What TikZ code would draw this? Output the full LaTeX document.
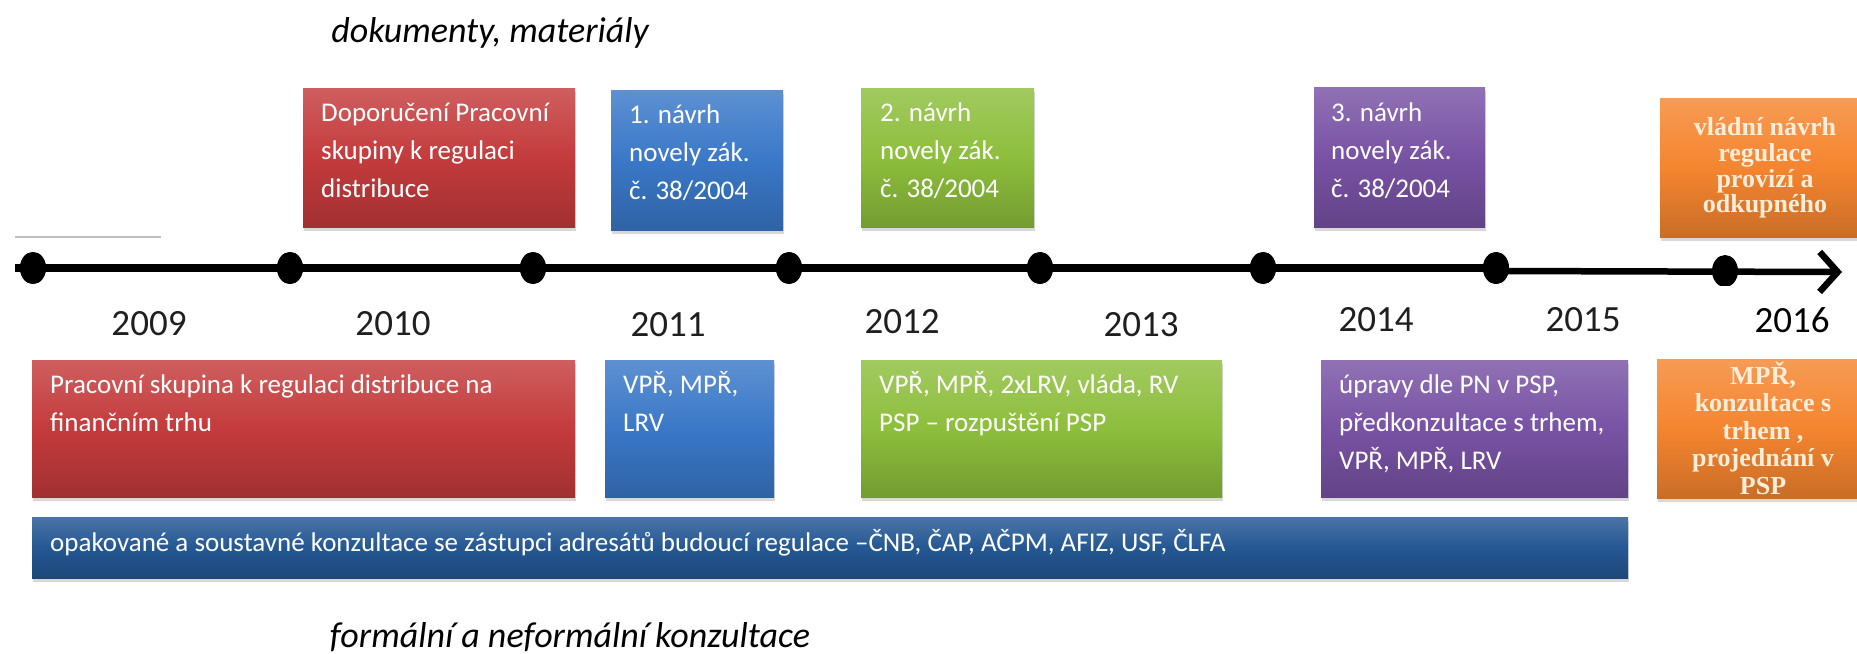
\documentclass[tikz,border=0pt]{standalone}
\usepackage{fontspec}
\setmainfont{Carlito}
\newfontfamily\orfont{Liberation Serif}
\usetikzlibrary{shadows,arrows.meta,shapes.geometric}
\definecolor{cred}{HTML}{C43B3C}
\definecolor{cblue}{HTML}{3A78C8}
\definecolor{cgreen}{HTML}{8DBE3C}
\definecolor{cpurple}{HTML}{7852A4}
\definecolor{corange}{HTML}{F5852F}
\definecolor{cbar}{HTML}{245793}
\definecolor{otext}{HTML}{FDEEDB}
\tikzset{
  colbox/.style={draw=none, inner sep=0pt, anchor=north west,
    top color=#1!82!white, bottom color=#1!82!black, middle color=#1,
    drop shadow={shadow xshift=1pt, shadow yshift=-4pt, opacity=0.3}},
  boxtext/.style={anchor=north west, inner sep=0pt, align=left, text=white,
    font=\fontsize{27}{38}\selectfont},
  otxt/.style={inner sep=0pt, align=center, text=otext,
    font=\orfont\bfseries\fontsize{26}{25.7}\selectfont},
  year/.style={anchor=base, inner sep=0pt, text=black!88,
    font=\fontsize{37}{40}\selectfont},
  caption/.style={anchor=base, inner sep=0pt, text=black,
    font=\itshape\fontsize{36}{40}\selectfont},
  dot/.style={ellipse, fill=black, inner sep=0pt, minimum width=26pt, minimum height=32pt},
  tline/.style={line width=8pt, black},
}
\begin{document}
\begin{tikzpicture}[x=1pt,y=-1pt]
\useasboundingbox (0,0) rectangle (1857,653);
\fill[white] (0,0) rectangle (1857,653);

% captions
\node[caption] (cap1) at (490,42) {dokumenty, materiály};
\node[caption] (cap2) at (570,647) {formální a neformální konzultace};

% top row boxes
\node[colbox=cred, minimum width=272pt, minimum height=139pt] (r1) at (303,88) {};
\node[colbox=cblue, minimum width=172pt, minimum height=140pt] (b1) at (611,90) {};
\node[colbox=cgreen, minimum width=173pt, minimum height=139pt] (g1) at (861,88) {};
\node[colbox=cpurple, minimum width=171pt, minimum height=140pt] (p1) at (1314,87) {};
\node[colbox=corange, minimum width=220pt, minimum height=139pt] (o1) at (1660,98) {};

\node[boxtext] (r1t) at (321,94.4) {\strut Doporučení Pracovní\\skupiny k regulaci\\distribuce};
\node[boxtext] (b1t) at (629,96.4) {\strut 1. návrh\\novely zák.\\č. 38/2004};
\node[boxtext] (g1t) at (880,94.4) {\strut 2. návrh\\novely zák.\\č. 38/2004};
\node[boxtext] (p1t) at (1331,94.4) {\strut 3. návrh\\novely zák.\\č. 38/2004};
\node[otxt] (o1t) at (1765,168) {vládní návrh\\regulace\\provizí a\\odkupného};

% bottom row boxes
\node[colbox=cred, minimum width=543pt, minimum height=137pt] (r2) at (32,360) {};
\node[colbox=cblue, minimum width=169pt, minimum height=137pt] (b2) at (605,360) {};
\node[colbox=cgreen, minimum width=361pt, minimum height=137pt] (g2) at (861,360) {};
\node[colbox=cpurple, minimum width=307pt, minimum height=137pt] (p2) at (1321,360) {};
\node[colbox=corange, minimum width=220pt, minimum height=139pt] (o2) at (1657,359) {};
\node[colbox=cbar, minimum width=1596pt, minimum height=61pt] (bar) at (32,517) {};

\node[boxtext] (r2t) at (50,366.4) {\strut Pracovní skupina k regulaci distribuce na\\finančním trhu};
\node[boxtext] (b2t) at (623,366.4) {\strut VPŘ, MPŘ,\\LRV};
\node[boxtext] (g2t) at (879,366.4) {\strut VPŘ, MPŘ, 2xLRV, vláda, RV\\PSP – rozpuštění PSP};
\node[boxtext] (p2t) at (1339,366.4) {\strut úpravy dle PN v PSP,\\předkonzultace s trhem,\\VPŘ, MPŘ, LRV};
\node[otxt, font=\orfont\bfseries\fontsize{26}{27.5}\selectfont] (o2t) at (1763,428) {MPŘ,\\konzultace s\\trhem ,\\projednání v\\PSP};
\node[boxtext] (bart) at (50,524.4) {\strut opakované a soustavné konzultace se zástupci adresátů budoucí regulace –ČNB, ČAP, AČPM, AFIZ, USF, ČLFA};

% grey line
\coordinate (gl1) at (15,237);
\coordinate (gl2) at (161,237);
\draw[black!25, line width=2pt] (gl1) -- (gl2);

% timeline
\coordinate (ts) at (15,268);
\node[dot] (d1) at (33,268) {};
\node[dot] (d2) at (290,268) {};
\node[dot] (d3) at (533,268) {};
\node[dot] (d4) at (789,268) {};
\node[dot] (d5) at (1040,268) {};
\node[dot] (d6) at (1263,268) {};
\node[dot] (d7) at (1496,268) {};
\coordinate (tm) at (1496,271);
\coordinate (te) at (1842,272);
\draw[tline] (ts) -- (d7.center);
\draw[line width=6.5pt, -{Straight Barb[length=18pt,width=40pt]}] (tm) -- (te);
\foreach \n in {d1,d2,d3,d4,d5,d6,d7} \fill (\n.center) ellipse [x radius=13pt, y radius=16pt];
\begin{scope}
\clip (1700,240) rectangle (1750,285);
\node[dot] (d8) at (1725,271) {};
\end{scope}

% years
\node[year] (y09) at (149,335) {2009};
\node[year] (y10) at (393,335) {2010};
\node[year] (y11) at (668,336) {2011};
\node[year] (y12) at (902,333) {2012};
\node[year] (y13) at (1141,336) {2013};
\node[year] (y14) at (1376,331) {2014};
\node[year] (y15) at (1583,331) {2015};
\node[year, text=black] (y16) at (1792,332) {2016};
\end{tikzpicture}
\end{document}
